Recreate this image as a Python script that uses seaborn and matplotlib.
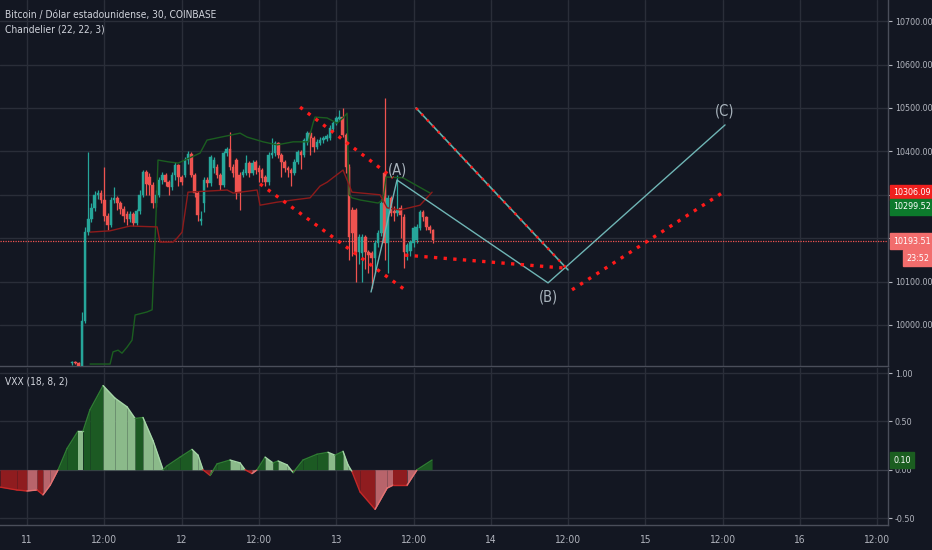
import numpy as np
import pandas as pd
import matplotlib
matplotlib.use("Agg")
import matplotlib.pyplot as plt
import seaborn as sns

# ---------------- data ----------------
# 30-minute candles, first bar on day 11 at 07:00
first_bar_day = 11 + 7 / 24
bar_days = 1 / 48

opens = [9912, 9915, 9912, 9905, 10010, 10215, 10245, 10270, 10300, 10304,
         10288, 10251, 10230, 10288, 10293, 10281, 10268, 10255, 10245, 10255,
         10235, 10262, 10300, 10353, 10340, 10323, 10281, 10300, 10334, 10345,
         10330, 10318, 10345, 10369, 10340, 10345, 10380, 10395, 10346, 10304,
         10240, 10281, 10334, 10327, 10362, 10364, 10346, 10323, 10396, 10406,
         10364, 10380, 10346, 10346, 10350, 10373, 10350, 10376, 10362, 10357,
         10341, 10329, 10392, 10396, 10419, 10392, 10376, 10362, 10357, 10350,
         10376, 10399, 10392, 10422, 10442, 10431, 10410, 10419, 10426, 10428,
         10431, 10452, 10465, 10474, 10479, 10438, 10364, 10265, 10265, 10168,
         10166, 10203, 10168, 10166, 10154, 10189, 10212, 10350, 10189, 10293,
         10262, 10258, 10270, 10249, 10168, 10170, 10189, 10196, 10223, 10260,
         10249, 10226, 10219]
closes = [9915, 9912, 9905, 10010, 10215, 10245, 10270, 10300, 10304, 10288,
          10251, 10230, 10288, 10293, 10281, 10268, 10250, 10245, 10255, 10235,
          10262, 10300, 10353, 10325, 10323, 10281, 10300, 10334, 10345, 10330,
          10318, 10345, 10369, 10340, 10330, 10380, 10395, 10346, 10304, 10253,
          10245, 10334, 10327, 10387, 10380, 10346, 10323, 10396, 10406, 10364,
          10350, 10304, 10304, 10353, 10373, 10350, 10373, 10357, 10353, 10339,
          10329, 10392, 10396, 10419, 10392, 10376, 10362, 10357, 10350, 10376,
          10399, 10392, 10426, 10442, 10431, 10410, 10422, 10426, 10431, 10435,
          10454, 10465, 10477, 10479, 10438, 10364, 10203, 10212, 10168, 10203,
          10203, 10168, 10161, 10154, 10189, 10212, 10281, 10189, 10293, 10258,
          10258, 10265, 10253, 10168, 10184, 10191, 10223, 10226, 10260, 10249,
          10226, 10219, 10196]
highs = [9918, 9917, 9914, 10030, 10225, 10399, 10280, 10308, 10312, 10310,
         10365, 10258, 10295, 10318, 10298, 10285, 10274, 10262, 10262, 10260,
         10268, 10310, 10358, 10358, 10350, 10330, 10310, 10340, 10352, 10350,
         10335, 10352, 10375, 10372, 10346, 10386, 10402, 10398, 10350, 10308,
         10262, 10340, 10340, 10392, 10386, 10372, 10350, 10400, 10410, 10445,
         10370, 10385, 10352, 10360, 10392, 10378, 10380, 10380, 10368, 10362,
         10346, 10398, 10430, 10424, 10422, 10396, 10380, 10366, 10362, 10382,
         10404, 10404, 10430, 10448, 10446, 10436, 10428, 10432, 10436, 10440,
         10460, 10470, 10482, 10495, 10500, 10442, 10370, 10272, 10270, 10210,
         10210, 10208, 10172, 10170, 10195, 10218, 10290, 10523, 10300, 10298,
         10275, 10345, 10276, 10255, 10190, 10196, 10228, 10232, 10266, 10264,
         10252, 10230, 10222]
lows = [9908, 9909, 9902, 9903, 10005, 10208, 10238, 10262, 10290, 10282,
        10240, 10220, 10225, 10280, 10265, 10255, 10238, 10230, 10238, 10228,
        10230, 10255, 10295, 10300, 10300, 10270, 10272, 10295, 10325, 10320,
        10300, 10310, 10335, 10320, 10322, 10340, 10370, 10340, 10295, 10240,
        10230, 10260, 10318, 10320, 10350, 10338, 10310, 10318, 10390, 10358,
        10340, 10290, 10265, 10340, 10345, 10340, 10345, 10348, 10330, 10330,
        10320, 10322, 10385, 10390, 10385, 10340, 10352, 10340, 10320, 10345,
        10370, 10360, 10386, 10415, 10392, 10398, 10405, 10414, 10420, 10424,
        10426, 10446, 10460, 10470, 10432, 10350, 10150, 10160, 10100, 10140,
        10100, 10130, 10120, 10085, 10120, 10180, 10205, 10150, 10120, 10250,
        10240, 10250, 10200, 10131, 10150, 10160, 10180, 10190, 10218, 10240,
        10218, 10212, 10190]

# Chandelier exit lines (day, price)
chand_green_t = [11.4075, 11.537, 11.556, 11.589, 11.614, 11.647, 11.679, 11.699, 11.776, 11.809,
                 11.828, 11.841, 11.847, 11.912, 11.977, 12.119, 12.164, 12.229, 12.378, 12.423,
                 12.527, 12.617, 12.721, 12.818, 12.850, 12.863, 12.941, 13.005, 13.044, 13.070,
                 13.083, 13.102, 13.154, 13.270, 13.303, 13.322, 13.432, 13.607]
chand_green_v = [9910, 9910, 9938, 9942, 9935, 9949, 9965, 10023, 10030, 10035,
                 10196, 10318, 10380, 10376, 10373, 10396, 10426, 10431, 10442, 10433,
                 10422, 10415, 10422, 10422, 10465, 10479, 10477, 10465, 10477, 10488,
                 10300, 10293, 10288, 10281, 10288, 10341, 10339, 10304]
chand_red_t = [11.4075, 11.537, 11.666, 11.841, 11.860, 11.944, 11.970, 12.003, 12.041, 12.294,
               12.333, 12.488, 12.507, 12.617, 12.721, 12.831, 12.895, 12.941, 13.044, 13.102,
               13.283, 13.329, 13.413, 13.542, 13.620]
chand_red_v = [10214, 10217, 10228, 10226, 10191, 10191, 10200, 10214, 10306, 10311,
               10304, 10311, 10276, 10283, 10288, 10293, 10320, 10329, 10357, 10306,
               10300, 10270, 10265, 10276, 10306]

# VXX oscillator (day, value)
osc_t = [10.825, 10.935, 11.000, 11.065, 11.103, 11.149, 11.201, 11.259, 11.330, 11.362,
         11.407, 11.492, 11.569, 11.647, 11.699, 11.750, 11.815, 11.880, 11.906, 11.990,
         12.067, 12.106, 12.138, 12.184, 12.229, 12.313, 12.378, 12.410, 12.455, 12.488,
         12.540, 12.591, 12.624, 12.682, 12.721, 12.785, 12.876, 12.947, 12.992, 13.044,
         13.076, 13.102, 13.154, 13.251, 13.329, 13.367, 13.458, 13.523, 13.620]
osc_v = [-0.18, -0.21, -0.22, -0.21, -0.26, -0.16, 0.0, 0.22, 0.40, 0.40,
         0.62, 0.87, 0.74, 0.65, 0.53, 0.54, 0.30, 0.0, 0.04, 0.13,
         0.21, 0.15, 0.0, -0.06, 0.06, 0.10, 0.07, 0.0, -0.04, 0.0,
         0.13, 0.07, 0.09, 0.05, -0.03, 0.10, 0.16, 0.18, 0.15, 0.19,
         0.05, -0.02, -0.23, -0.41, -0.19, -0.16, -0.16, 0.0, 0.10]

# Drawings (day, price)
dots_a = [(12.507, 10325), (13.464, 10076)]
dots_b = [(12.766, 10502), (13.367, 10339)]
dots_c = [(13.445, 10161), (14.480, 10131)]
dots_d = [(14.525, 10081), (15.495, 10304)]
trend_proj = [(13.516, 10500), (14.499, 10127)]
wave_path_t = [13.225, 13.393, 14.370, 15.515]
wave_path_p = [10076, 10334, 10097, 10461]
wave_labels = ["(A)", "(B)", "(C)"]
wave_label_t = [13.393, 14.370, 15.513]
wave_label_p = [10357, 10064, 10493]

last_price = 10193.51
chand_tag_red = 10306.09
chand_tag_green = 10299.52
osc_last = 0.10
countdown = "23:52"

price_ticks = [10000, 10100, 10200, 10300, 10400, 10500, 10600, 10700]
hidden_price_ticks = [10200, 10300]   # covered by the price tags
osc_ticks = [-0.5, 0.0, 0.5, 1.0]
x_ticks = [11, 11.5, 12, 12.5, 13, 13.5, 14, 14.5, 15, 15.5, 16, 16.5]
x_labels = ["11", "12:00", "12", "12:00", "13", "12:00", "14", "12:00", "15", "12:00", "16", "12:00"]

# ---------------- style ----------------
BG = "#131722"
GRID = "#2a2e39"
TXT = "#b2b5be"
UP = "#26a69a"
DOWN = "#ef5350"

sns.set_theme(style="dark")
plt.rcParams["font.family"] = ["DejaVu Sans"]
plt.rcParams["font.stretch"] = "condensed"
FS = 6.4

W, H = 932, 550
fig = plt.figure(figsize=(W / 100, H / 100), dpi=100, facecolor=BG)
ax = fig.add_axes([0, 1 - 366 / H, 888 / W, 366 / H])
ax2 = fig.add_axes([0, 25 / H, 888 / W, (525 - 368) / H], sharex=ax)

for a in (ax, ax2):
    a.set_facecolor(BG)
    for s in ("left", "top"):
        a.spines[s].set_visible(False)
    for s in ("right", "bottom"):
        a.spines[s].set_visible(True)
        a.spines[s].set_color("#4a4e5a")
        a.spines[s].set_linewidth(1)
    a.yaxis.tick_right()
    a.tick_params(axis="y", colors=TXT, labelsize=FS, length=3, width=0.8, pad=2,
                  direction="out", right=True, left=False)
    a.set_xticks(x_ticks)
    a.grid(True, color=GRID, linewidth=1)
    a.set_axisbelow(True)

ax.set_xlim(10.825, 16.569)
ax.set_ylim(9905.5, 10748.8)
ax2.set_ylim(-0.572, 1.052)
ax.set_yticks(price_ticks)
ax.set_yticklabels(["" if v in hidden_price_ticks else f"{v:.2f}" for v in price_ticks])
ax2.set_yticks(osc_ticks)
ax2.set_yticklabels([f"{v:.2f}" for v in osc_ticks])
ax.tick_params(axis="x", labelbottom=False, length=0)
ax2.set_xticklabels(x_labels)
ax2.tick_params(axis="x", colors=TXT, labelsize=7.3, length=0, pad=7)

# ---------------- candles ----------------
df = pd.DataFrame({"o": opens, "h": highs, "l": lows, "c": closes})
df["t"] = first_bar_day + np.arange(len(df)) * bar_days
df["col"] = np.where(df["c"] >= df["o"], UP, DOWN)
ax.vlines(df["t"], df["l"], df["h"], colors=df["col"], linewidth=0.9, zorder=3)
body_lo = np.minimum(df["o"], df["c"])
body_h = np.maximum(np.abs(df["c"] - df["o"]), 1.5)
ax.bar(df["t"], body_h, bottom=body_lo, width=bar_days * 0.8, color=df["col"],
       edgecolor=df["col"], linewidth=0.3, zorder=4)

# Chandelier lines
sns.lineplot(x=chand_green_t, y=chand_green_v, ax=ax, color="#1b5e20", linewidth=1.0,
             estimator=None, sort=False, zorder=5)
sns.lineplot(x=chand_red_t, y=chand_red_v, ax=ax, color="#8e1b1b", linewidth=1.0,
             estimator=None, sort=False, zorder=5)

# last price line
ax.axhline(last_price, color=DOWN, linewidth=0.9, linestyle=(0, (1, 1)), zorder=2)

# dotted red drawings
DOT = "#ff1a1a"
for seg in (dots_a, dots_b, dots_c, dots_d):
    xs, ys = zip(*seg)
    ax.plot(xs, ys, color=DOT, linewidth=2.4, linestyle=(0, (1, 1.9)),
            dash_capstyle="butt", zorder=7)

# projection trend line (teal with red dots)
xs, ys = zip(*trend_proj)
ax.plot(xs, ys, color="#5fb3ad", linewidth=1.2, zorder=6)
ax.plot(xs, ys, color=DOT, linewidth=1.8, linestyle=(0, (1, 2.2)), dash_capstyle="butt", zorder=7)

# wave path
sns.lineplot(x=wave_path_t, y=wave_path_p, ax=ax, color="#6fb5b5", linewidth=1.0,
             estimator=None, sort=False, zorder=6)
for lab, tx, py in zip(wave_labels, wave_label_t, wave_label_p):
    ax.text(tx, py, lab, color="#a9b4bd", fontsize=10.5, ha="center", va="center", zorder=8)

ax.set_xlabel("")
ax.set_ylabel("")

# ---------------- oscillator ----------------
DG, LG = "#1c5a23", "#8bba8a"
DR, LR = "#8f1c1f", "#b8646b"
for i in range(len(osc_t) - 1):
    t0, t1 = osc_t[i], osc_t[i + 1]
    v0, v1 = osc_v[i], osc_v[i + 1]
    rising = v1 > v0
    xs = [t0, t1]
    ys = np.array([v0, v1])
    pos_col = DG if rising else LG
    neg_col = LR if rising else DR
    if v0 >= 0 and v1 >= 0:
        ax2.fill_between(xs, ys, 0, color=pos_col, linewidth=0, zorder=3)
    elif v0 <= 0 and v1 <= 0:
        ax2.fill_between(xs, ys, 0, color=neg_col, linewidth=0, zorder=3)
    else:
        ax2.fill_between(xs, ys, 0, where=ys >= 0, interpolate=True, color=pos_col,
                         linewidth=0, zorder=3)
        ax2.fill_between(xs, ys, 0, where=ys <= 0, interpolate=True, color=neg_col,
                         linewidth=0, zorder=3)
    if (v0 + v1) >= 0:
        line_col = "#2e7d32" if rising else "#a5d6a7"
    else:
        line_col = "#e57373" if rising else "#c62828"
    ax2.plot(xs, ys, color=line_col, linewidth=1.0, zorder=4)

ax2.axhline(0, color="#3a3e4a", linewidth=0.8, zorder=2)

# ---------------- tags & labels ----------------
def tag(axis, val, text, fc, dy=0, dx=5, fs=FS, fg="white"):
    axis.annotate(text, xy=(1.0, val), xycoords=axis.get_yaxis_transform(),
                  xytext=(dx, dy), textcoords="offset pixels", ha="left", va="center",
                  fontsize=fs, color=fg, annotation_clip=False, zorder=20,
                  bbox=dict(boxstyle="square,pad=0.35", fc=fc, ec=fc))

tag(ax, chand_tag_red, f"{chand_tag_red:.2f}", "#f0201e", dy=0)
tag(ax, chand_tag_green, f"{chand_tag_green:.2f}", "#0c7a2c", dy=-12)
tag(ax, last_price, f"{last_price:.2f}", "#f26d6d", dy=0)
tag(ax, last_price, countdown, "#f26d6d", dy=-17, dx=18)
tag(ax2, osc_last, f"{osc_last:.2f}", "#1b5e20", dy=0)

fig.text(5 / W, 1 - 15 / H, "Bitcoin / Dólar estadounidense, 30, COINBASE",
         color="#d1d4dc", fontsize=7.3, va="center", ha="left")
fig.text(5 / W, 1 - 29 / H, "Chandelier (22, 22, 3)", color="#d1d4dc", fontsize=7.3,
         va="center", ha="left")
fig.text(5 / W, 1 - 381 / H, "VXX (18, 8, 2)", color="#d1d4dc", fontsize=7.3,
         va="center", ha="left")

fig.savefig("out.png", dpi=100, facecolor=BG)
